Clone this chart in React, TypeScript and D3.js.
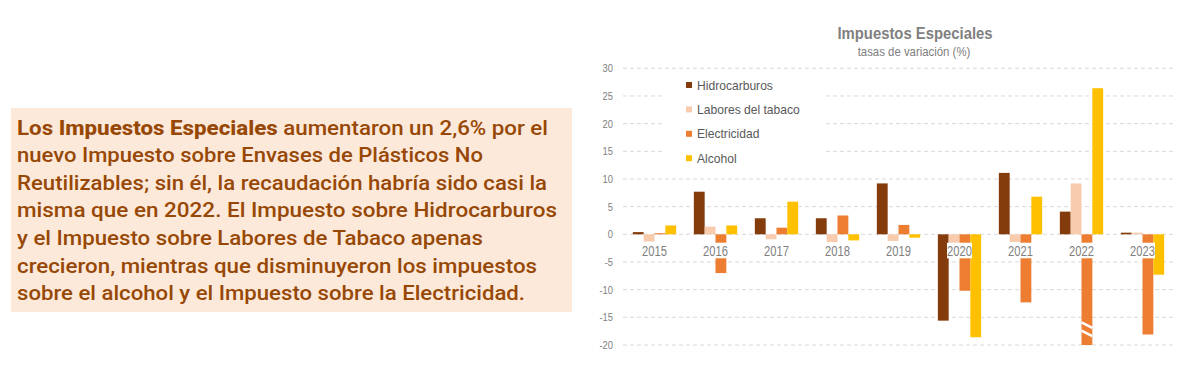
import React from 'react';
import * as d3 from 'd3';

const years = ['2015', '2016', '2017', '2018', '2019', '2020', '2021', '2022', '2023'];
const seriesNames = ['Hidrocarburos', 'Labores del tabaco', 'Electricidad', 'Alcohol'];
const seriesColors = ['#843c0c', '#f8cbad', '#ed7d31', '#ffc000'];

const hidrocarburos = [0.4, 7.7, 2.9, 2.9, 9.2, -15.6, 11.1, 4.1, 0.3];
const tabaco = [-1.3, 1.4, -0.9, -1.4, -1.2, -1.6, -1.4, 9.2, 0.3];
const electricidad = [0.2, -7.0, 1.2, 3.4, 1.7, -10.2, -12.3, -20, -18.1];
const alcohol = [1.6, 1.6, 5.9, -1.1, -0.6, -18.6, 6.8, 26.4, -7.3];
const seriesValues = [hidrocarburos, tabaco, electricidad, alcohol];

const yTicks = [-20, -15, -10, -5, 0, 5, 10, 15, 20, 25, 30];
// electricidad 2022 runs off the axis, drawn with a break
const brokenBar = { year: '2022', series: 2 };

const paragraph = [
  { parts: [['Los ', 700], ['Impuestos Especiales', 800], [' aumentaron un 2,6% por el', 500]], right: 548 },
  { parts: [['nuevo Impuesto sobre Envases de Plásticos No', 500]], right: 483 },
  { parts: [['Reutilizables; sin él, la recaudación habría sido casi la', 500]], right: 547 },
  { parts: [['misma que en 2022. El Impuesto sobre Hidrocarburos', 500]], right: 557 },
  { parts: [['y el Impuesto sobre Labores de Tabaco apenas', 500]], right: 483 },
  { parts: [['crecieron, mientras que disminuyeron los impuestos', 500]], right: 537 },
  { parts: [['sobre el alcohol y el Impuesto sobre la Electricidad.', 500]], right: 525 },
];

const sans = '"Liberation Sans", Arial, sans-serif';

// condensed text (the original uses a narrow face)
function Narrow({ x, y, sx, anchor, children, ...rest }: any) {
  return (
    <text transform={`translate(${x},${y}) scale(${sx},1)`} textAnchor={anchor} fontFamily={sans} {...rest}>
      {children}
    </text>
  );
}

export default function App() {
  const W = 1195;
  const H = 375;

  const x0 = d3.scaleBand<string>().domain(years).range([624, 1173]).paddingInner(0.29).paddingOuter(0.145);
  const x1 = d3.scaleBand<number>().domain(d3.range(seriesNames.length)).range([0, x0.bandwidth()]);
  const y = d3.scaleLinear().domain([-20, 30]).range([345, 68.3]);
  const plotLeft = 623;
  const plotRight = 1175;

  return (
    <svg width={W} height={H} style={{ position: 'absolute', left: 0, top: 0, background: '#fff' }}>
      {/* text panel */}
      <rect x={11} y={108} width={561} height={204} fill="#fde9d9" />
      {paragraph.map((line, i) => (
        <text
          key={i}
          x={17}
          y={134.5 + i * 27.6}
          fill="#974806"
          fontFamily='Roboto, "Liberation Sans", sans-serif'
          fontSize={20.5}
          textLength={line.right - 17}
          lengthAdjust="spacingAndGlyphs"
        >
          {line.parts.map((p, j) => (
            <tspan key={j} fontWeight={p[1] as number}>{p[0] as string}</tspan>
          ))}
        </text>
      ))}

      {/* title */}
      <Narrow x={915} y={39} sx={0.9} anchor="middle" fill="#808080" fontWeight="bold" fontSize={16.5}>
        Impuestos Especiales
      </Narrow>
      <Narrow x={914} y={56} sx={0.95} anchor="middle" fill="#808080" fontSize={12}>
        tasas de variación (%)
      </Narrow>

      {/* grid */}
      {yTicks.map(t => (
        <g key={t}>
          <line x1={plotLeft} x2={plotRight} y1={y(t)} y2={y(t)} stroke="#d9d9d9" strokeWidth={1} strokeDasharray="4,3" />
          <Narrow x={613} y={y(t) + 4} sx={0.85} anchor="end" fill="#808080" fontSize={11}>
            {t}
          </Narrow>
        </g>
      ))}

      {/* legend background covers grid */}
      <rect x={662} y={72} width={161} height={98} fill="#fff" />

      {/* bars */}
      {years.map((yr, i) => (
        <g key={yr} transform={`translate(${x0(yr)},0)`}>
          {seriesValues.map((vals, s) => {
            const v = Math.max(vals[i], -20);
            const top = Math.min(y(v), y(0));
            const h = Math.abs(y(v) - y(0));
            return <rect key={s} x={x1(s)} y={top} width={x1.bandwidth()} height={Math.max(h, 0.5)} fill={seriesColors[s]} />;
          })}
          {yr === brokenBar.year && (
            <g stroke="#fff" strokeWidth={2.6}>
              {[-15.9, -17.4].map(v => (
                <line
                  key={v}
                  x1={x1(brokenBar.series)!}
                  x2={x1(brokenBar.series)! + x1.bandwidth()}
                  y1={y(v)}
                  y2={y(v) + 5.6}
                />
              ))}
            </g>
          )}
        </g>
      ))}

      {/* category labels with white boxes */}
      {years.map(yr => {
        const cx = x0(yr)! + x0.bandwidth() / 2;
        return (
          <g key={yr}>
            <rect x={cx - 12.5} y={242.7} width={25} height={15.6} fill="#fff" />
            <Narrow x={cx} y={256} sx={0.8} anchor="middle" fill="#808080" fontSize={14}>
              {yr}
            </Narrow>
          </g>
        );
      })}

      {/* legend */}
      {seriesNames.map((name, i) => (
        <g key={name} transform={`translate(686,${85 + i * 24.4})`}>
          <rect x={0} y={-3} width={6} height={6} fill={seriesColors[i]} />
          <Narrow x={11} y={4.5} sx={0.93} anchor="start" fill="#595959" fontSize={13}>
            {name}
          </Narrow>
        </g>
      ))}
    </svg>
  );
}
